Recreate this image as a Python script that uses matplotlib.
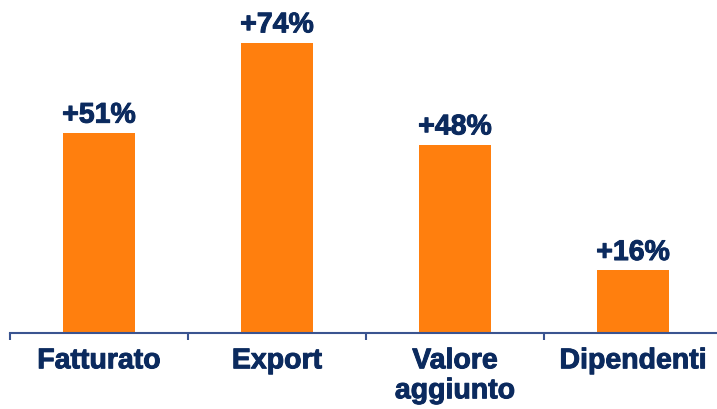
import matplotlib
matplotlib.use("Agg")
import matplotlib.pyplot as plt
import matplotlib.patheffects as pe
import numpy as np

categories = ["Fatturato", "Export", "Valore\naggiunto", "Dipendenti"]
growth = [51, 74, 48, 16]
labels = ["+51%", "+74%", "+48%", "+16%"]

bar_color = "#FF7F0E"
text_color = "#0B2A5E"
axis_color = "#3A5490"

plt.rcParams["font.family"] = ["Liberation Sans", "DejaVu Sans"]

W, H = 717, 410
fig = plt.figure(figsize=(W / 100, H / 100), dpi=100)
left, right, bottom, top = 10, 722, 334, 20
ax = fig.add_axes([left / W, (H - bottom) / H, (right - left) / W, (bottom - top) / H])

heavy = [pe.withStroke(linewidth=0.7, foreground=text_color)]

x = np.arange(len(categories))
ax.bar(x, growth, width=0.40, color=bar_color, zorder=2)
for xi, v, lab in zip(x, growth, labels):
    ax.annotate(lab, (xi, v), xytext=(0, 3), textcoords="offset points",
                ha="center", va="bottom", fontsize=20.5, fontweight="bold",
                color=text_color, path_effects=heavy)

ax.set_xlim(-0.5, len(categories) - 0.5)
ax.set_ylim(0, 80)

for s in ["top", "right", "left"]:
    ax.spines[s].set_visible(False)
ax.spines["bottom"].set_color(axis_color)
ax.spines["bottom"].set_linewidth(1.5)
ax.set_yticks([])

# Category labels centred; tick marks on the category boundaries
ax.set_xticks(x)
ax.set_xticklabels(categories, fontsize=20.5, fontweight="bold", color=text_color,
                   linespacing=1.2, va="top")
for t in ax.get_xticklabels():
    t.set_path_effects(heavy)
ax.tick_params(axis="x", which="major", length=0, pad=11)
ax.set_xticks(np.arange(len(categories)) - 0.5, minor=True)
ax.tick_params(axis="x", which="minor", length=5, width=1.5, color=axis_color)

fig.savefig("out.png", dpi=100)
